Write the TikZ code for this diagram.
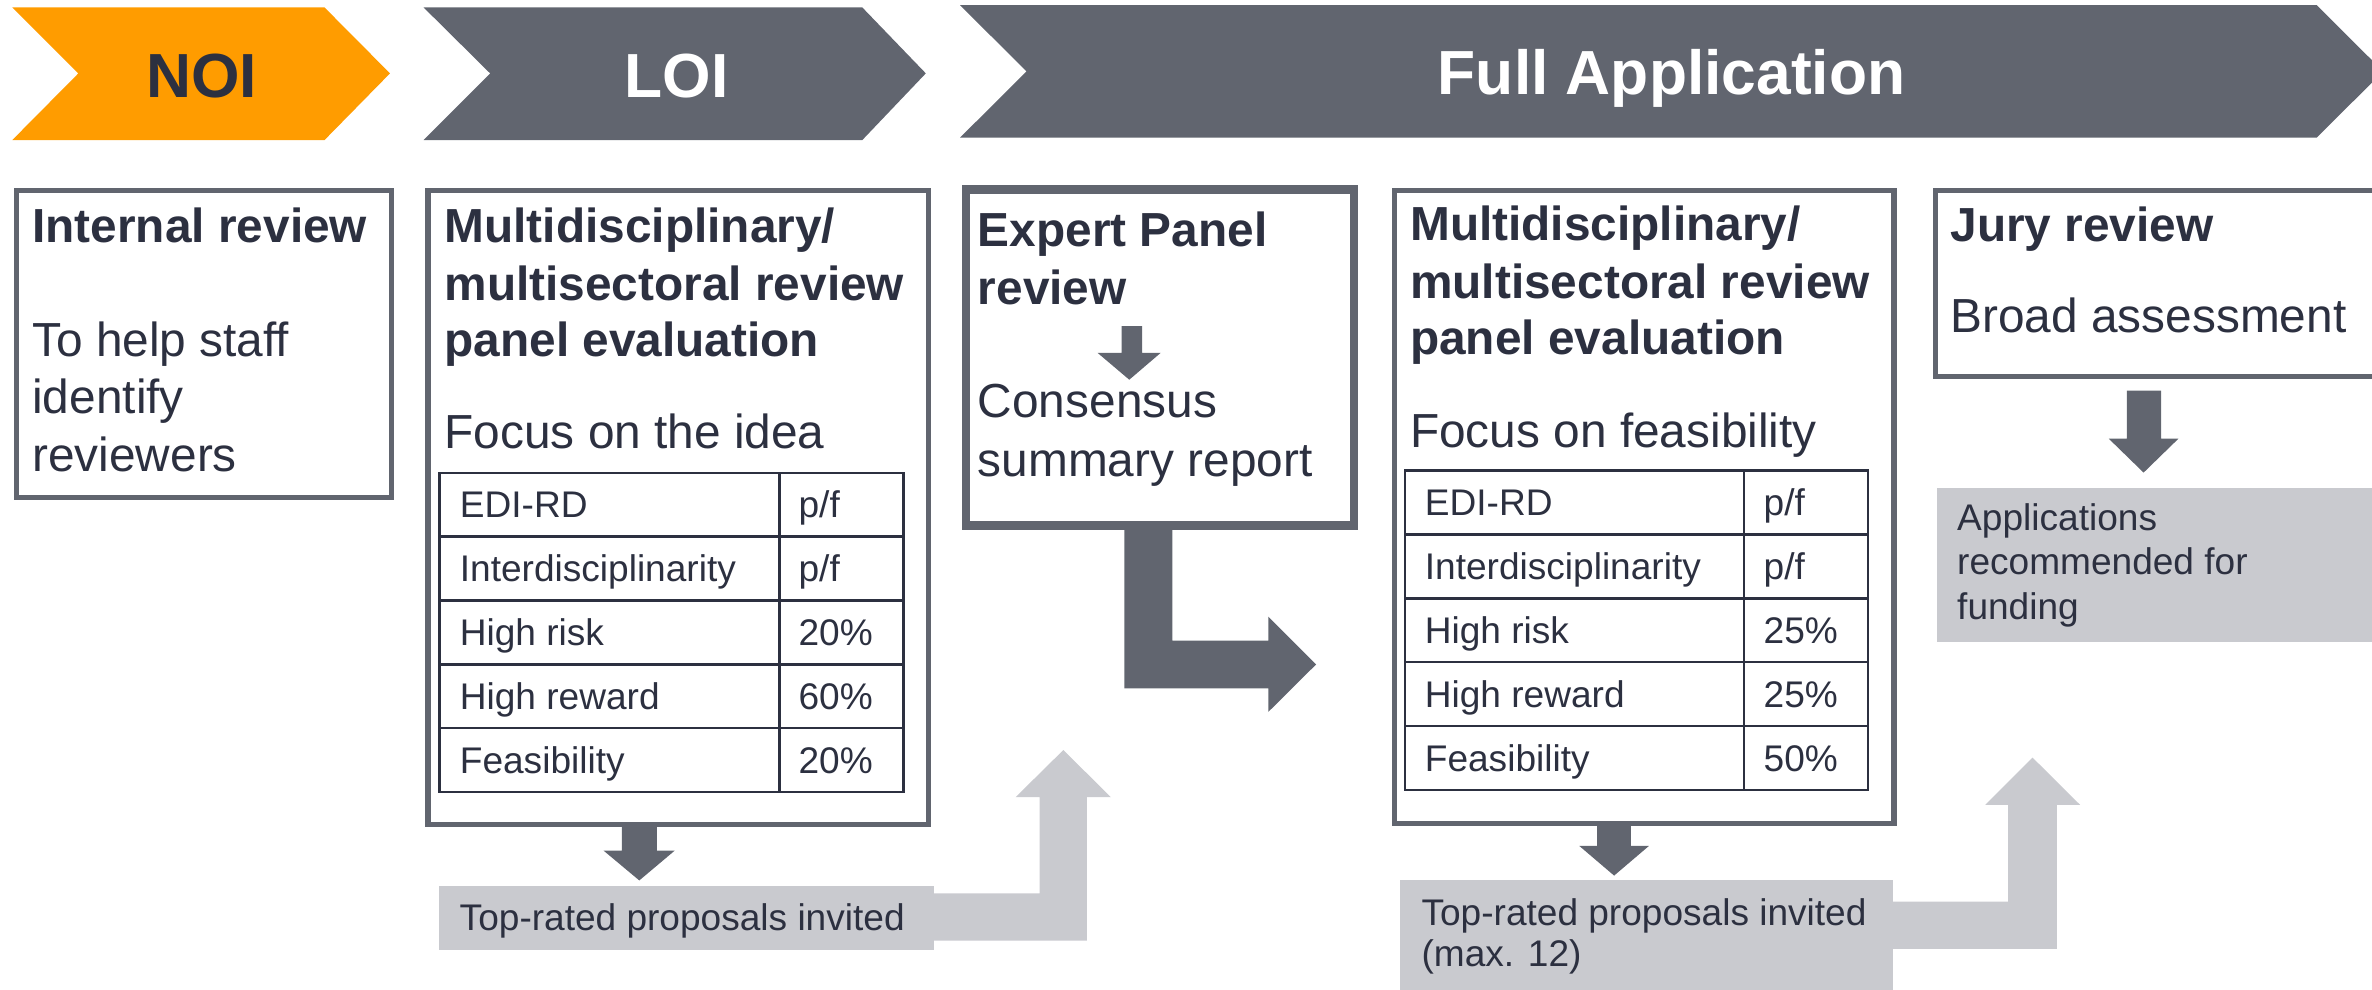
\documentclass[tikz,border=0pt]{standalone}
\usepackage{fontspec}
\setmainfont{Liberation Sans}
\definecolor{orng}{HTML}{FF9C00}
\definecolor{slate}{HTML}{61656F}
\definecolor{navy}{HTML}{2C3040}
\definecolor{lgray}{HTML}{C9CACF}
\tikzset{
  txt/.style={inner sep=0pt, anchor=base west, text=navy},
  ttl/.style={txt, font=\fontsize{15.8}{19}\selectfont\bfseries},
  bdy/.style={txt, font=\fontsize{15.8}{19}\selectfont},
  sml/.style={txt, font=\fontsize{12.25}{14.5}\selectfont},
  hd/.style={inner sep=0pt, anchor=base, font=\fontsize{20.6}{24}\selectfont\bfseries},
  panel/.style={draw=slate, line width=1.7pt, fill=white, anchor=north west, inner sep=0pt},
  xpanel/.style={panel, line width=2.85pt},
  graybox/.style={fill=lgray, anchor=north west, inner sep=0pt},
  tbl/.style={draw=navy, line width=0.8pt},
  darkarrow/.style={fill=slate},
  lightarrow/.style={fill=lgray}
}
\begin{document}
\begin{tikzpicture}[x=0.5pt,y=-0.5pt]
\useasboundingbox (0,0) rectangle (1568,654);
\clip (0,0) rectangle (1568,654);

% chevrons
\fill[orng] (8.1,4.9) -- (214.5,4.9) -- (257.8,48.5) -- (214.5,92.6) -- (8.1,92.6) -- (51.8,48.5) -- cycle;
\fill[slate] (280,4.9) -- (570,4.9) -- (612,48.5) -- (570,92.6) -- (280,92.6) -- (324,48.5) -- cycle;
\fill[slate] (634.6,3.4) -- (1531.4,3.4) -- (1575.4,47.2) -- (1531.4,91) -- (634.6,91) -- (678.6,47.2) -- cycle;
\node[hd, text=navy] (noi) at (133.2,64.6) {NOI};
\node[hd, text=white] (loi) at (447.3,64.6) {LOI};
\node[hd, text=white] (full) at (1105,62.4) {Full Application};

% light gray elbow arrows
\fill[lightarrow] (600,590.5) -- (687.3,590.5) -- (687.3,527) -- (671.3,527) -- (702.9,495.8) -- (734.4,527) -- (718.5,527) -- (718.5,621.8) -- (600,621.8) -- cycle;
\fill[lightarrow] (1240,596) -- (1327.4,596) -- (1327.4,532) -- (1312.4,532) -- (1343.6,500.8) -- (1375,532) -- (1359.6,532) -- (1359.6,627.3) -- (1240,627.3) -- cycle;

% dark block arrows
\fill[darkarrow] (411,540) -- (434.3,540) -- (434.3,562.3) -- (446,562.3) -- (422.6,582) -- (399,562.3) -- (411,562.3) -- cycle;
\fill[darkarrow] (1055.7,540) -- (1078,540) -- (1078,559.2) -- (1090,559.2) -- (1067,578.8) -- (1044,559.2) -- (1055.7,559.2) -- cycle;
\fill[darkarrow] (1406,258.2) -- (1428.5,258.2) -- (1428.5,290) -- (1440,290) -- (1417,312.4) -- (1394,290) -- (1406,290) -- cycle;
\fill[darkarrow] (743.2,340) -- (775,340) -- (775,423.5) -- (838.4,423.5) -- (838.4,407.6) -- (870,439.2) -- (838.4,470.6) -- (838.4,455) -- (743.2,455) -- cycle;

% panels
\node[panel, minimum width=124.15pt, minimum height=101.35pt] (ir) at (9,124.5) {};
\node[panel, minimum width=165.55pt, minimum height=209.55pt] (lp) at (281.2,124.5) {};
\node[xpanel, minimum width=128.3pt, minimum height=111pt] (ep) at (635.7,122.4) {};
\node[panel, minimum width=165.2pt, minimum height=209.3pt] (fp) at (919.9,124) {};
\node[panel, minimum width=160pt, minimum height=61.6pt] (jr) at (1277.7,124) {};

% gray boxes
\node[graybox, minimum width=163.35pt, minimum height=21.25pt] (g1) at (290,585) {};
\node[graybox, minimum width=163.05pt, minimum height=45pt] (g2) at (924.8,581.3) {};
\node[graybox, minimum width=155pt, minimum height=51.15pt] (g3) at (1280.3,322) {};

% expert inner arrow
\fill[darkarrow] (741.5,215.5) -- (755,215.5) -- (755,233.3) -- (767.2,233.3) -- (746.5,251) -- (725.6,233.3) -- (741.5,233.3) -- cycle;

% texts: internal review
\node[ttl] (ir1) at (21,160.3) {Internal review};
\node[bdy] (ir2) at (21,235.7) {To help staff};
\node[bdy] (ir3) at (21,273.5) {identify};
\node[bdy] (ir4) at (21,311.6) {reviewers};

% LOI panel
\node[ttl] (lp1) at (293.5,160.3) {Multidisciplinary/};
\node[ttl] (lp2) at (293.5,198.7) {multisectoral review};
\node[ttl] (lp3) at (293.5,235.7) {panel evaluation};
\node[bdy] (lp4) at (293.5,296.5) {Focus on the idea};

% LOI table
\draw[tbl] (290.6,312.5) rectangle (597.3,523.6);
\draw[tbl] (515.3,312.5) -- (515.3,523.6);
\foreach \k in {1,2,3,4} \draw[tbl] (290.6,312.5+42.22*\k) -- (597.3,312.5+42.22*\k);
\node[sml] (la1) at (303.6,342.3) {EDI-RD};
\node[sml] (lb1) at (527.5,342.3) {p/f};
\node[sml] (la2) at (303.6,384.5) {Interdisciplinarity};
\node[sml] (lb2) at (527.5,384.5) {p/f};
\node[sml] (la3) at (303.6,426.7) {High risk};
\node[sml] (lb3) at (527.5,426.7) {20\%};
\node[sml] (la4) at (303.6,468.9) {High reward};
\node[sml] (lb4) at (527.5,468.9) {60\%};
\node[sml] (la5) at (303.6,511.1) {Feasibility};
\node[sml] (lb5) at (527.5,511.1) {20\%};

% Expert panel
\node[ttl] (ep1) at (646,163.2) {Expert Panel};
\node[ttl] (ep2) at (646,201.6) {review};
\node[bdy] (ep3) at (646,276.3) {Consensus};
\node[bdy] (ep4) at (646,315.3) {summary report};

% Full panel
\node[ttl] (fp1) at (931.8,159) {Multidisciplinary/};
\node[ttl] (fp2) at (931.8,197.3) {multisectoral review};
\node[ttl] (fp3) at (931.8,234.3) {panel evaluation};
\node[bdy] (fp4) at (931.8,296) {Focus on feasibility};

% Full table
\draw[tbl] (928.8,311) rectangle (1235,522.3);
\draw[tbl] (1153,311) -- (1153,522.3);
\foreach \k in {1,2,3,4} \draw[tbl] (928.8,311+42.26*\k) -- (1235,311+42.26*\k);
\node[sml] (fa1) at (941.5,340.7) {EDI-RD};
\node[sml] (fb1) at (1165.5,340.7) {p/f};
\node[sml] (fa2) at (941.5,383) {Interdisciplinarity};
\node[sml] (fb2) at (1165.5,383) {p/f};
\node[sml] (fa3) at (941.5,425.2) {High risk};
\node[sml] (fb3) at (1165.5,425.2) {25\%};
\node[sml] (fa4) at (941.5,467.5) {High reward};
\node[sml] (fb4) at (1165.5,467.5) {25\%};
\node[sml] (fa5) at (941.5,509.7) {Feasibility};
\node[sml] (fb5) at (1165.5,509.7) {50\%};

% Jury
\node[ttl] (jr1) at (1289,159.5) {Jury review};
\node[bdy] (jr2) at (1289,219.8) {Broad assessment};

% gray box texts
\node[sml] (g1t) at (303.5,614.8) {Top-rated proposals invited};
\node[sml] (g2t) at (939.3,611.5) {Top-rated proposals invited};
\node[sml] (g2u) at (939.3,639) {(max. 12)};
\node[sml] (g3t) at (1293.4,350.8) {Applications};
\node[sml] (g3u) at (1293.4,379.6) {recommended for};
\node[sml] (g3v) at (1293.4,409.7) {funding};
\end{tikzpicture}
\end{document}
